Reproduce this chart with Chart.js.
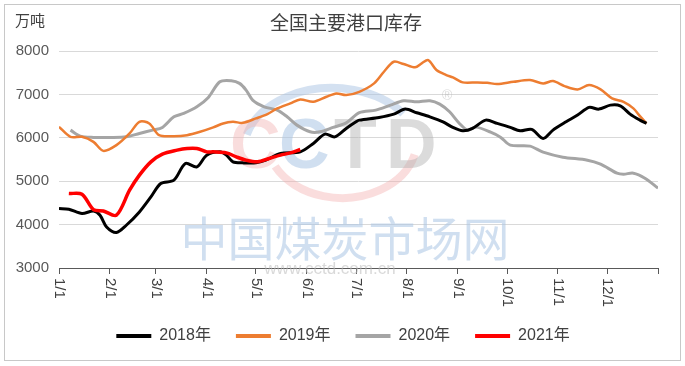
<!DOCTYPE html>
<html>
<head>
<meta charset="utf-8">
<script src="https://cdn.jsdelivr.net/npm/chart.js@4.4.0/dist/chart.umd.min.js"></script>
<style>
  html, body { margin: 0; padding: 0; background: #fff; }
  #wrap { width: 685px; height: 366px; position: relative; }
</style>
</head>
<body>
<div id="wrap"><canvas id="port_chart"></canvas></div>
<script>
// month ticks (day of year) and their labels
const monthDays = [0, 31, 59, 90, 120, 151, 181, 212, 243, 273, 304, 334, 365];
const tickLabels = ['1/1', '2/1', '3/1', '4/1', '5/1', '6/1', '7/1', '8/1', '9/1', '10/1', '11/1', '12/1'];
const seriesNames = ['2018年', '2019年', '2020年', '2021年'];
const colors = ['#000000', '#ED7D31', '#A5A5A5', '#FF0000'];

// 2018
const days2018 = [0, 6, 14, 21, 25, 29, 35, 41, 49, 56, 62, 70, 77, 84, 90, 98, 102, 106, 112, 120, 126, 135, 147, 155, 162, 168, 175, 181, 183, 195, 204, 211, 218, 226, 234, 240, 246, 252, 260, 267, 275, 281, 288, 295, 301, 309, 316, 323, 329, 336, 342, 348, 354, 358];
const stock2018 = [4370, 4354, 4255, 4315, 4216, 3946, 3817, 3985, 4292, 4638, 4947, 5023, 5408, 5330, 5600, 5676, 5600, 5446, 5423, 5423, 5485, 5639, 5676, 5870, 6085, 6022, 6216, 6368, 6407, 6470, 6546, 6661, 6576, 6484, 6368, 6239, 6161, 6216, 6407, 6331, 6239, 6161, 6193, 5985, 6177, 6368, 6523, 6700, 6661, 6753, 6737, 6546, 6407, 6331];
// 2019
const days2019 = [0, 7, 14, 21, 27, 35, 43, 49, 55, 61, 70, 78, 86, 94, 100, 106, 112, 120, 127, 133, 141, 147, 155, 163, 169, 175, 183, 192, 198, 204, 210, 217, 221, 225, 230, 236, 240, 246, 255, 261, 267, 277, 287, 295, 301, 308, 316, 323, 330, 337, 344, 350, 354, 358];
const stock2019 = [6253, 6022, 6022, 5907, 5699, 5831, 6100, 6368, 6331, 6061, 6038, 6061, 6138, 6239, 6331, 6368, 6345, 6446, 6546, 6677, 6793, 6885, 6830, 6945, 7023, 6984, 7060, 7254, 7522, 7752, 7699, 7623, 7715, 7792, 7561, 7446, 7392, 7277, 7277, 7268, 7238, 7291, 7330, 7254, 7307, 7192, 7115, 7215, 7115, 6908, 6830, 6677, 6500, 6331];
// 2020
const days2020 = [7, 13, 21, 31, 41, 49, 57, 63, 70, 76, 84, 91, 98, 105, 110, 114, 118, 125, 133, 139, 145, 153, 159, 167, 175, 183, 193, 202, 210, 218, 226, 232, 238, 244, 249, 254, 263, 269, 275, 287, 295, 307, 322, 330, 340, 344, 350, 357, 365];
const stock2020 = [6177, 6038, 6008, 6008, 6022, 6100, 6177, 6239, 6484, 6562, 6715, 6931, 7291, 7315, 7254, 7100, 6869, 6715, 6638, 6484, 6292, 6138, 6138, 6239, 6345, 6580, 6638, 6753, 6853, 6830, 6853, 6777, 6599, 6331, 6177, 6246, 6130, 6015, 5831, 5808, 5669, 5554, 5485, 5392, 5185, 5162, 5185, 5070, 4840];
// 2021
const days2021 = [6, 14, 21, 27, 35, 43, 49, 56, 63, 72, 78, 84, 90, 94, 102, 108, 114, 121, 128, 135, 141, 147];
const stock2021 = [4716, 4700, 4347, 4315, 4216, 4792, 5139, 5446, 5623, 5715, 5754, 5754, 5676, 5676, 5653, 5561, 5485, 5446, 5523, 5600, 5653, 5731];

const FONT = "'Liberation Sans', 'Noto Sans CJK SC', sans-serif";
const PAD_B = 12;

function toPoints(days, vals) {
    return days.map((d, i) => ({x: d, y: vals[i]}));
}

/**
 * title, unit, rotated month labels, watermark and frame
 */
const decor = {
    id: 'decor',
    afterUpdate(chart) {
        // centre the legend on the whole picture, not on the padded box
        const lg = chart.legend;
        if (lg) {
            lg.left += 14;
            lg.right += 14;
            lg.adjustHitBoxes();
        }
    },
    beforeDatasetsDraw(chart) {
        const ctx = chart.ctx;
        ctx.save();
        // logo arcs
        ctx.lineWidth = 8;
        ctx.strokeStyle = 'rgba(170,196,228,0.5)';
        ctx.beginPath();
        ctx.ellipse(332, 150, 88, 62, 0, Math.PI * 1.08, Math.PI * 1.8);
        ctx.stroke();
        ctx.strokeStyle = 'rgba(242,170,170,0.4)';
        ctx.beginPath();
        ctx.ellipse(342, 140, 75, 58, 0, Math.PI * 0.08, Math.PI * 0.85);
        ctx.stroke();
        // CCTD letters
        ctx.font = 'bold 70px ' + FONT;
        ctx.textBaseline = 'alphabetic';
        ctx.textAlign = 'left';
        ctx.fillStyle = 'rgba(242,180,180,0.45)';
        ctx.fillText('C', 230, 168);
        ctx.fillStyle = 'rgba(170,196,228,0.55)';
        ctx.fillText('C', 279, 168);
        ctx.fillStyle = 'rgba(175,175,175,0.45)';
        ctx.fillText('T', 334, 168);
        ctx.fillText('D', 386, 168);
        ctx.font = '14px ' + FONT;
        ctx.fillText('®', 442, 100);
        // site name
        ctx.textAlign = 'center';
        ctx.textBaseline = 'middle';
        ctx.font = '47px ' + FONT;
        ctx.fillStyle = 'rgba(170,196,228,0.55)';
        ctx.fillText('中国煤炭市场网', 345, 243);
        ctx.font = '17px ' + FONT;
        ctx.fillStyle = 'rgba(185,185,185,0.55)';
        ctx.fillText('www.cctd.com.cn', 330, 269);
        ctx.restore();
    },
    afterDraw(chart) {
        const ctx = chart.ctx;
        const xs = chart.scales.x;
        ctx.save();
        ctx.fillStyle = '#404040';
        ctx.textAlign = 'center';
        ctx.textBaseline = 'middle';
        ctx.font = '19px ' + FONT;
        ctx.fillText('全国主要港口库存', 346, 25);
        ctx.font = '15px ' + FONT;
        ctx.fillText('万吨', 30, 22);

        ctx.font = '15px ' + FONT;
        ctx.textAlign = 'left';
        tickLabels.forEach((lab, i) => {
            const px = xs.getPixelForValue(monthDays[i]);
            ctx.save();
            ctx.translate(px, xs.top + 10);
            ctx.rotate(Math.PI / 2);
            ctx.fillText(lab, 0, 0);
            ctx.restore();
        });

        ctx.strokeStyle = '#c8c8c8';
        ctx.lineWidth = 1;
        ctx.strokeRect(4.5, 4.5, 676, 356);
        ctx.restore();
    }
};

const datasets = [
    {label: seriesNames[0], data: toPoints(days2018, stock2018), borderWidth: 3, order: 1},
    {label: seriesNames[1], data: toPoints(days2019, stock2019), borderWidth: 2.5, order: 2},
    {label: seriesNames[2], data: toPoints(days2020, stock2020), borderWidth: 3, order: 3},
    {label: seriesNames[3], data: toPoints(days2021, stock2021), borderWidth: 3.5, order: 0}
].map((ds, i) => Object.assign(ds, {
    borderColor: colors[i],
    backgroundColor: colors[i],
    pointRadius: 0,
    tension: 0.3,
    fill: false
}));

const portChart = new Chart(document.getElementById('port_chart').getContext('2d'), {
    type: 'line',
    data: {datasets: datasets},
    options: {
        responsive: true,
        maintainAspectRatio: false,
        animation: false,
        layout: {padding: {top: 51, right: 27, left: 0, bottom: PAD_B}},
        plugins: {
            title: {display: false},
            tooltip: {enabled: false},
            legend: {
                position: 'bottom',
                labels: {
                    boxWidth: 35,
                    boxHeight: 4,
                    padding: 25,
                    color: '#404040',
                    font: {size: 16, family: FONT},
                    sort: (a, b) => a.datasetIndex - b.datasetIndex,
                    generateLabels(chart) {
                        const items = Chart.defaults.plugins.legend.labels.generateLabels(chart);
                        items.forEach(it => { it.lineWidth = 0; });
                        return items;
                    }
                }
            }
        },
        scales: {
            x: {
                type: 'linear',
                min: 0,
                max: 365,
                afterBuildTicks(scale) {
                    scale.ticks = monthDays.map(v => ({value: v}));
                },
                afterFit(scale) {
                    const lg = scale.chart.legend;
                    scale.height = 366 - 268 - PAD_B - (lg ? lg.height : 0);
                },
                ticks: {display: false},
                grid: {drawOnChartArea: false, drawTicks: true, tickLength: 6, color: '#595959'},
                border: {color: '#595959', width: 1}
            },
            y: {
                min: 3000,
                max: 8000,
                afterFit(scale) {
                    scale.width = 59;
                },
                ticks: {
                    stepSize: 1000,
                    color: '#595959',
                    padding: 10,
                    font: {size: 15, family: FONT},
                    callback: v => String(v)
                },
                grid: {color: '#d9d9d9', drawTicks: false},
                border: {display: false}
            }
        }
    },
    plugins: [decor]
});
</script>
</body>
</html>
